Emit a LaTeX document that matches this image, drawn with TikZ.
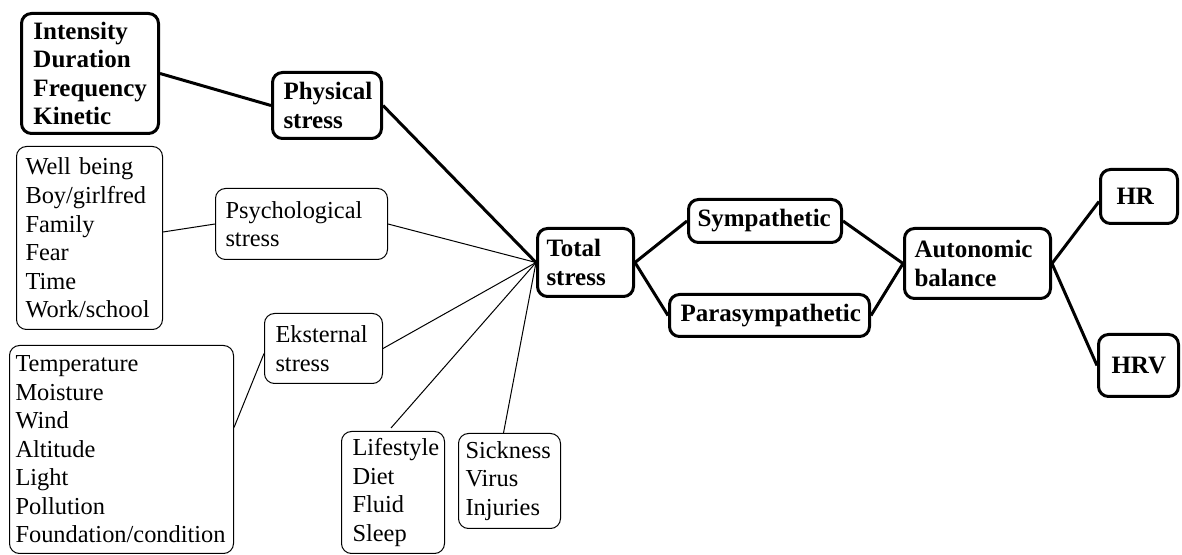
\documentclass[tikz,border=0pt]{standalone}
\usepackage{fontspec}
\setmainfont{Liberation Serif}
\usetikzlibrary{calc}

\tikzset{every picture/.style={line width=0.75pt}}
\tikzset{
  plainbox/.style={draw, rounded corners=7.5pt, anchor=north west, align=left,
    inner ysep=0pt, font=\fontsize{18.3}{21.4}\selectfont},
  boldbox/.style={plainbox, line width=2.25pt, font=\fontsize{18.75}{21.4}\selectfont\bfseries},
  thickline/.style={line width=2.25pt},
}

\begin{document}
\begin{tikzpicture}[x=0.75pt,y=0.75pt,yscale=-1,xscale=1]
\useasboundingbox (0,0) rectangle (1182,555);

%Physical group
\node [boldbox, text width=84.75pt, inner xsep=9pt, minimum height=90pt] (int) at (20,12) {Intensity\\Duration\\Frequency\\Kinetic};
\node [boldbox, text width=65.25pt, inner xsep=8.25pt, minimum height=49.5pt] (phys) at (271,71) {Physical\\stress};
%Psychological group
\node [plainbox, text width=96pt, inner xsep=6.75pt, minimum height=137.25pt] (well) at (16,146) {Well being\\Boy/girlfred\\Family\\Fear\\Time\\Work/school};
\node [plainbox, text width=114pt, inner xsep=7.5pt, minimum height=53.25pt] (psy) at (215,188) {Psychological\\stress};
%External group
\node [plainbox, text width=72pt, inner xsep=8.25pt, minimum height=52.5pt] (eks) at (264,313) {Eksternal\\stress};
\node [plainbox, text width=159pt, inner xsep=4.5pt, minimum height=156pt] (temp) at (9,345) {Temperature\\Moisture\\Wind\\Altitude\\Light\\Pollution\\Foundation/condition};
%Lifestyle and sickness
\node [plainbox, text width=60.75pt, inner xsep=8.25pt, minimum height=91.5pt] (life) at (341,431) {Lifestyle\\Diet\\Fluid\\Sleep};
\node [plainbox, text width=66pt, inner xsep=5.25pt, minimum height=71.25pt] (sick) at (458,433) {Sickness\\Virus\\Injuries};
%Centre and right side
\node [boldbox, text width=58.5pt, inner xsep=6.75pt, minimum height=51pt] (tot) at (536,227) {Total\\stress};
\node [boldbox, text width=101.25pt, inner xsep=6.75pt, minimum height=32.25pt] (sym) at (687,198) {Sympathetic};
\node [boldbox, text width=133.5pt, inner xsep=8.25pt, minimum height=31.5pt] (para) at (668,293) {Parasympathetic};
\node [boldbox, text width=94.5pt, inner xsep=7.5pt, minimum height=52.5pt] (auto) at (903,227) {Autonomic\\balance};
\node [boldbox, text width=33.75pt, inner xsep=12pt, minimum height=40.5pt] (hr) at (1099,168) {HR};
\node [boldbox, text width=40.5pt, inner xsep=9.75pt, minimum height=46.5pt] (hrv) at (1097,333) {HRV};

%Connectors
\draw [thickline] (int.east) -- (phys.west);
\draw [thickline] (phys.east) -- (tot.west);
\draw ($(well.east)+(0,-6)$) -- (psy.west);
\draw (psy.east) -- (tot.west);
\draw ($(temp.east)+(0,-22)$) -- ($(eks.west)+(0,5)$);
\draw (eks.east) -- (tot.west);
\draw ($(life.north)+(-2,-3)$) -- (tot.west);
\draw ($(sick.north)+(-6,0)$) -- (tot.west);
\draw [thickline] (tot.east) -- (sym.west);
\draw [thickline] (tot.east) -- (para.west);
\draw [thickline] (sym.east) -- (auto.west);
\draw [thickline] (para.east) -- (auto.west);
\draw [thickline] (auto.east) -- ($(hr.west)+(0,5)$);
\draw [thickline] (auto.east) -- (hrv.west);

\end{tikzpicture}
\end{document}
